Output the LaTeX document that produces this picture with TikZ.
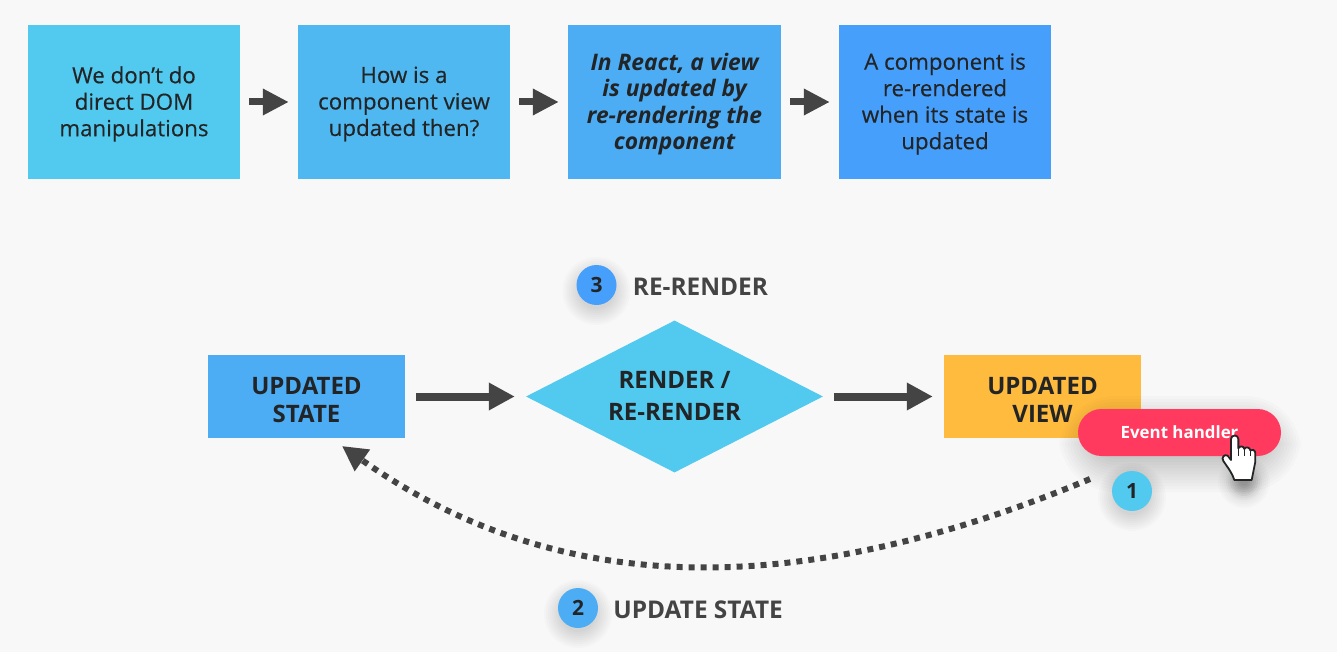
\documentclass[tikz,border=0pt]{standalone}
\usepackage{fontspec}
\setmainfont{Open Sans}
\newfontfamily\bodyfont[BoldFont=*,BoldFeatures={FakeBold=0.35}]{Open Sans}
\usetikzlibrary{positioning,calc,arrows.meta,shapes.geometric}
\definecolor{pagebg}{HTML}{F8F8F8}
\definecolor{inkdark}{HTML}{222426}
\definecolor{arrowgray}{HTML}{444444}
\definecolor{skyone}{HTML}{52C9EE}
\definecolor{skytwo}{HTML}{4FB8F0}
\definecolor{skythree}{HTML}{4CADF5}
\definecolor{skyfour}{HTML}{479FFC}
\definecolor{viewyellow}{HTML}{FFBB3D}
\definecolor{eventred}{HTML}{FF3A5E}
\newcommand{\softdot}[3]{%
    \foreach \r in {0,2,...,#3} {
        \fill[black,opacity=0.014] (#1) circle ({#2+\r});
    }
}
\begin{document}
\begin{tikzpicture}[
            x=1pt,y=-1pt,
            note box/.style={rectangle,text=inkdark,align=center,inner sep=0pt,minimum width=212pt,minimum height=154pt,
                text depth=1.5pt,
                font=\bodyfont\bfseries\fontsize{22.3}{26.5}\selectfont},
            flow box/.style={rectangle,text=inkdark,align=center,inner sep=0pt,minimum width=197pt,minimum height=83pt,
                text height=52pt,
                font=\bfseries\fontsize{24}{28}\selectfont},
            step dot/.style={circle,text=inkdark,inner sep=0pt,minimum size=40pt,
                font=\bfseries\fontsize{21}{24}\selectfont},
            step text/.style={text=arrowgray,inner sep=0pt,yshift=-2pt,font=\bfseries\fontsize{24.4}{28}\selectfont},
            small arrow/.style={color=arrowgray,line width=7pt,-{Triangle[length=26pt,width=25pt]},shorten <=9pt,shorten >=9pt},
            big arrow/.style={color=arrowgray,line width=8pt,-{Triangle[length=26pt,width=26pt]},shorten <=11pt,shorten >=11pt},
        ]
            \useasboundingbox (0,0) rectangle (1337,652);
            \fill[pagebg] (0,0) rectangle (1337,652);

            % top row
            \node[note box,fill=skyone] (dom) at (134,102) {We don’t do\\direct DOM\\manipulations};
            \node[note box,fill=skytwo] (how) at (404,102) {How is a\\component view\\updated then?};
            \node[note box,fill=skythree,minimum width=213pt,font=\rmfamily\bfseries\itshape\fontsize{22.8}{26.5}\selectfont] (react) at (674.5,102) {In React, a view\\is updated by\\re-rendering the\\component};
            \node[note box,fill=skyfour] (when) at (945,102) {A component is\\re-rendered\\when its state is\\updated};

            \path (dom) edge[small arrow] (how);
            \path (how) edge[small arrow] (react);
            \path (react) edge[small arrow] (when);

            % flow row
            \node[flow box,fill=skythree] (state) at (306.5,396.5) {UPDATED\\STATE};
            \node[diamond,aspect=1.954,fill=skyone,text=inkdark,align=center,inner sep=0pt,minimum width=297pt,minimum height=152pt,
                text depth=2pt,font=\bfseries\fontsize{24}{32}\selectfont] (render) at (674.5,396.5) {RENDER /\\RE-RENDER};
            \node[flow box,fill=viewyellow] (view) at (1042.5,396.5) {UPDATED\\VIEW};

            \path (state) edge[big arrow] (render);
            \path (render) edge[big arrow] (view);

            % step labels
            \softdot{596.5,291}{18}{16}
            \node[step dot,fill=skyfour] (three) at (596.5,285) {3};
            \node[step text,right=16pt of three] (rerender) {RE-RENDER};
            \softdot{578,614}{18}{16}
            \node[step dot,fill=skythree] (two) at (578,608) {2};
            \node[step text,right=15pt of two] (update) {UPDATE STATE};

            % event button with its shadow
            \foreach \r in {0,3,...,36} {
                \fill[black,opacity=0.016,rounded corners={20pt+\r*1pt}] (1095-\r,432-\r) rectangle (1265+\r,456+\r);
            }
            \softdot{1132,497}{18}{16}
            \node[step dot,fill=skyone] (one) at (1132,491) {1};
            \node[rectangle,rounded corners=23.5pt,fill=eventred,text=white,inner sep=0pt,minimum width=203pt,minimum height=47pt,
                font=\bfseries\fontsize{16.9}{20}\selectfont] (event) at (1179.5,432.5) {Event handler};

            % update path
            \coordinate (curvestart) at (1090,479);
            \coordinate (curveend) at (342,446);
            \draw[draw=arrowgray,line width=6pt,dash pattern=on 6pt off 6pt,-{Triangle[length=25pt,width=25pt]}]
                (curvestart) .. controls (800,600) and (560,600) .. (curveend);

            % pointer
            \softdot{1244,482}{6}{20}
            \softdot{1244,482}{4}{14}
            \softdot{1244,482}{4}{10}
            \begin{scope}[shift={(1205,425)},x=0.3333pt,y=-0.3333pt]
                \draw[fill=white,draw=inkdark,line width=1.8pt,line join=round]
                    (78,105) -- (78,42) .. controls (78,28) and (100,28) .. (100,42) -- (100,70)
                    .. controls (104,62) and (116,62) .. (118,72) .. controls (122,64) and (134,66) .. (136,76)
                    .. controls (140,72) and (150,74) .. (151,84) -- (151,110) -- (140,165) -- (88,165)
                    .. controls (82,145) and (70,130) .. (55,108) .. controls (48,98) and (58,86) .. (68,92) -- cycle;
                \draw[draw=inkdark,line width=1pt] (100,70) -- (100,92);
                \draw[draw=inkdark,line width=1pt] (118,72) -- (118,92);
                \draw[draw=inkdark,line width=1pt] (136,76) -- (136,92);
            \end{scope}
        \end{tikzpicture}
\end{document}
